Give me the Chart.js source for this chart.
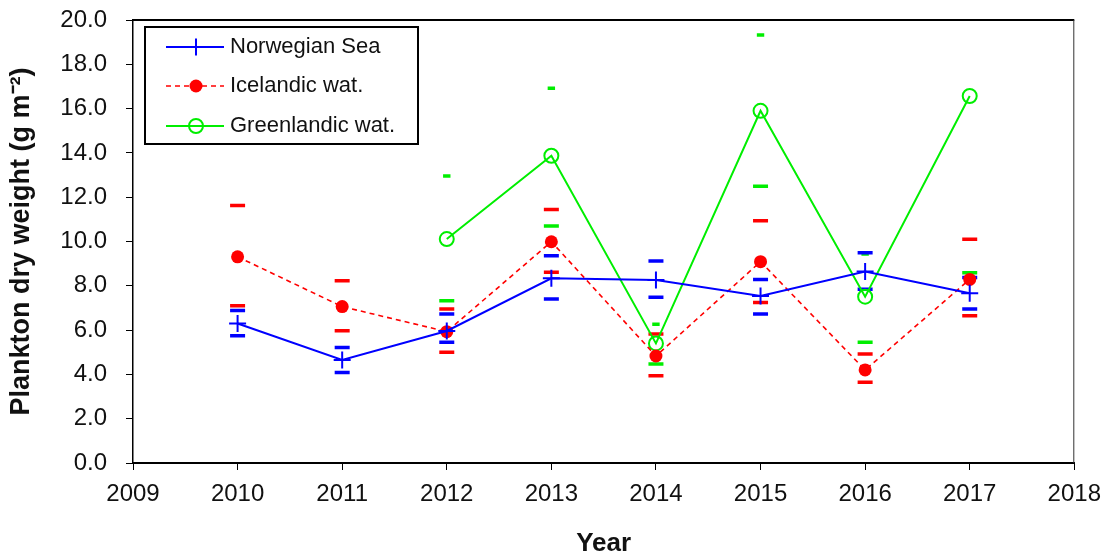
<!DOCTYPE html>
<html>
<head>
<meta charset="utf-8">
<script src="https://cdn.jsdelivr.net/npm/chart.js@4/dist/chart.umd.min.js"></script>
<style>
html,body{margin:0;padding:0;background:#fff;}
#wrap{width:1111px;height:557px;position:relative;}
</style>
</head>
<body>
<div id="wrap"><canvas id="c" width="1111" height="557"></canvas></div>
<script>
const years = [2010, 2011, 2012, 2013, 2014, 2015, 2016, 2017];
const norwegian     = [6.30, 4.65, 5.96, 8.34, 8.26, 7.54, 8.64, 7.66];
const norwegianHigh = [6.88, 5.22, 6.73, 9.36, 9.12, 8.29, 9.49, 8.38];
const norwegianLow  = [5.75, 4.09, 5.45, 7.40, 7.48, 6.73, 7.84, 6.95];
const icelandic     = [9.31, 7.06, 5.93, 9.99, 4.83, 9.09, 4.20, 8.29];
const icelandicHigh = [11.62, 8.23, 6.95, 11.45, 5.82, 10.94, 4.92, 10.10];
const icelandicLow  = [7.10, 5.97, 5.00, 8.61, 3.94, 7.25, 3.64, 6.65];
const greenlandic     = [null, null, 10.11, 13.87, 5.40, 15.90, 7.51, 16.57];
const greenlandicHigh = [null, null, 12.96, 16.92, 6.26, 19.32, 9.44, null];
const greenlandicLow  = [null, null, 7.33, 10.70, 4.47, 12.50, 5.45, 8.59];
const yTicks = [0, 2, 4, 6, 8, 10, 12, 14, 16, 18, 20];
const xTicks = [2009, 2010, 2011, 2012, 2013, 2014, 2015, 2016, 2017, 2018];
const seriesNames = ['Norwegian Sea', 'Icelandic wat.', 'Greenlandic wat.'];

const FONT = "'Liberation Sans', Arial, sans-serif";
const BLUE = '#0000ff', RED = '#ff0000', GREEN = '#00ee00';

const pts = (vals) => years.map((x, i) => ({x: x, y: vals[i]})).filter(p => p.y !== null);

function capSet(vals, color, r) {
  return {
    label: '_cap', data: pts(vals), showLine: false,
    pointStyle: 'line', pointRadius: r, pointHoverRadius: r,
    borderColor: color, pointBorderWidth: 3.5, backgroundColor: color, order: 5
  };
}

const datasets = [
  {label: seriesNames[0], data: pts(norwegian), showLine: true, borderColor: BLUE, borderWidth: 2,
   pointStyle: 'cross', pointRadius: 8.5, pointBorderWidth: 2, pointBorderColor: BLUE, backgroundColor: BLUE, order: 1},
  {label: seriesNames[1], data: pts(icelandic), showLine: true, borderColor: RED, borderWidth: 1.6, borderDash: [5, 4],
   pointStyle: 'circle', pointRadius: 6.5, pointBorderWidth: 0, pointBorderColor: RED, pointBackgroundColor: RED, backgroundColor: RED, order: 2},
  {label: seriesNames[2], data: pts(greenlandic), showLine: true, borderColor: GREEN, borderWidth: 2,
   pointStyle: 'circle', pointRadius: 7, pointBorderWidth: 2, pointBorderColor: GREEN, pointBackgroundColor: 'rgba(0,0,0,0)', backgroundColor: 'rgba(0,0,0,0)', order: 3},
  capSet(norwegianHigh, BLUE, 7.5), capSet(norwegianLow, BLUE, 7.5),
  capSet(icelandicHigh, RED, 7.5), capSet(icelandicLow, RED, 7.5),
  capSet(greenlandicHigh, GREEN, 3.7), capSet(greenlandicLow, GREEN, 7.5)
];

const framePlugin = {
  id: 'frame',
  beforeDatasetsDraw(chart) {
    const {ctx, chartArea: a} = chart;
    ctx.save();
    ctx.strokeStyle = '#000';
    ctx.lineWidth = 2;
    ctx.beginPath(); ctx.moveTo(a.left, a.top); ctx.lineTo(a.right, a.top); ctx.stroke();
    ctx.strokeStyle = '#333';
    ctx.lineWidth = 1;
    ctx.beginPath(); ctx.moveTo(a.right - 0.5, a.top); ctx.lineTo(a.right - 0.5, a.bottom); ctx.stroke();
    ctx.restore();
  },
  afterDraw(chart) {
    const {ctx, chartArea: a} = chart;
    const bx = a.left + 12, by = a.top + 7, bw = 273, bh = 117;
    ctx.save();
    ctx.fillStyle = '#fff';
    ctx.fillRect(bx, by, bw, bh);
    ctx.strokeStyle = '#000';
    ctx.lineWidth = 2;
    ctx.strokeRect(bx, by, bw, bh);
    const rowY = [by + 20, by + 59, by + 99];
    for (let i = 0; i < 3; i++) {
      const ds = chart.data.datasets[i];
      const y = rowY[i];
      ctx.save();
      ctx.strokeStyle = ds.borderColor;
      ctx.lineWidth = ds.borderWidth;
      ctx.setLineDash(ds.borderDash || []);
      ctx.beginPath(); ctx.moveTo(bx + 21, y); ctx.lineTo(bx + 79, y); ctx.stroke();
      ctx.restore();
      ctx.save();
      ctx.strokeStyle = ds.pointBorderColor;
      ctx.fillStyle = ds.pointBackgroundColor || ds.backgroundColor;
      ctx.lineWidth = ds.pointBorderWidth;
      Chart.helpers.drawPoint(ctx, {pointStyle: ds.pointStyle, rotation: 0, radius: ds.pointRadius, borderWidth: ds.pointBorderWidth}, bx + 51, y);
      ctx.restore();
      ctx.fillStyle = '#111';
      ctx.font = '22px ' + FONT;
      ctx.textBaseline = 'middle';
      ctx.textAlign = 'left';
      ctx.fillText(ds.label, bx + 85, y);
    }
    ctx.restore();
  }
};

new Chart(document.getElementById('c'), {
  type: 'scatter',
  data: {datasets: datasets},
  plugins: [framePlugin],
  options: {
    responsive: false,
    animation: false,
    events: [],
    layout: {padding: {left: 0, top: 20, right: 36, bottom: 0}},
    plugins: {legend: {display: false}, tooltip: {enabled: false}},
    scales: {
      x: {
        type: 'linear', min: xTicks[0], max: xTicks[xTicks.length - 1],
        afterBuildTicks(s) { s.ticks = xTicks.map(v => ({value: v})); },
        afterFit(s) { s.height = 94; },
        ticks: {color: '#111', font: {family: FONT, size: 24}, padding: 10, callback: v => String(v), maxRotation: 0, autoSkip: false},
        grid: {drawOnChartArea: false, drawTicks: true, tickLength: 7, color: '#000', lineWidth: 1},
        border: {display: true, color: '#000', width: 2},
        title: {display: true, text: 'Year', color: '#111', font: {family: FONT, size: 26, weight: 'bold'}, padding: {top: 0, bottom: -2}}
      },
      y: {
        type: 'linear', min: yTicks[0], max: yTicks[yTicks.length - 1],
        afterBuildTicks(s) { s.ticks = yTicks.map(v => ({value: v})); },
        afterFit(s) { s.width = 133; s.paddingTop = 0; s.paddingBottom = 0; },
        ticks: {color: '#111', font: {family: FONT, size: 24}, padding: 19, callback: v => v.toFixed(1)},
        grid: {drawOnChartArea: false, drawTicks: true, tickLength: 7, color: '#000', lineWidth: 1},
        border: {display: true, color: '#000', width: 1.5},
        title: {display: true, text: 'Plankton dry weight (g m\u207B\u00B2)', color: '#111', font: {family: FONT, size: 27, weight: 'bold'}, padding: {top: 5, bottom: 0}}
      }
    }
  }
});
</script>
</body>
</html>
